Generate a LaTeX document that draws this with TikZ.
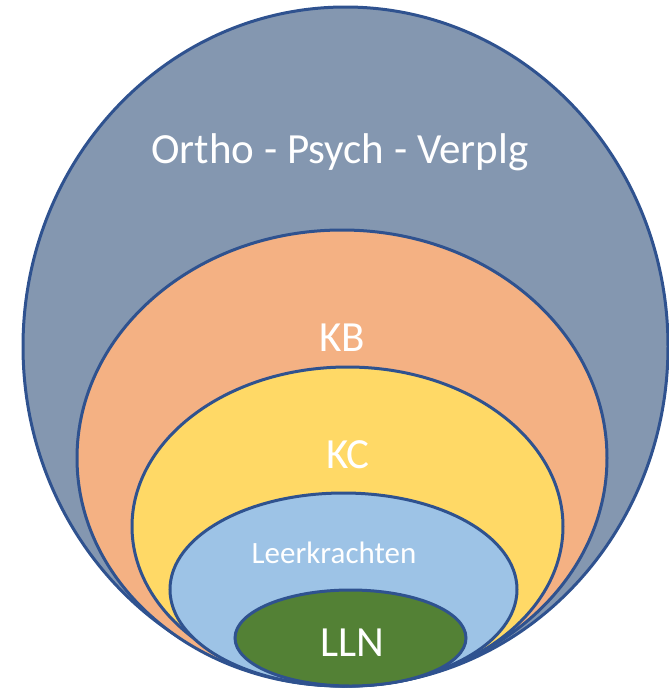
\documentclass[tikz,border=0pt]{standalone}
\usepackage{fontspec}
\setmainfont{Carlito}
\usetikzlibrary{shapes.geometric}
\definecolor{edgeblue}{HTML}{2F528F}
\definecolor{grayblue}{HTML}{8497B0}
\definecolor{kborange}{HTML}{F4B183}
\definecolor{kcyellow}{HTML}{FFD966}
\definecolor{lbblue}{HTML}{9DC3E6}
\definecolor{llngreen}{HTML}{538135}
\tikzset{
  ring/.style={ellipse, draw=edgeblue, line width=3pt, inner sep=0pt, outer sep=0pt},
  lbl/.style={text=white, inner sep=0pt, anchor=center},
}
\begin{document}
\begin{tikzpicture}[x=1pt,y=-1pt]
\useasboundingbox (0,0) rectangle (669,689);
\node[ring, fill=grayblue, minimum width=645pt, minimum height=679pt] (outer) at (345.5,346.5) {};
\node[ring, fill=kborange, minimum width=530pt, minimum height=456pt] (kb) at (342,458) {};
\node[ring, fill=kcyellow, minimum width=431pt, minimum height=319pt] (kc) at (347.5,526.5) {};
\node[ring, fill=lbblue, minimum width=347pt, minimum height=193pt] (lk) at (343.5,589.5) {};
\node[ring, fill=llngreen, minimum width=231pt, minimum height=96pt] (lln) at (350.5,638) {};
\node[lbl, font=\fontsize{43}{48}\selectfont] (touter) at (340,152) {Ortho - Psych - Verplg};
\node[lbl, font=\fontsize{43}{48}\selectfont] (tkb) at (342,338) {KB};
\node[lbl, font=\fontsize{43}{48}\selectfont] (tkc) at (348,455) {KC};
\node[lbl, font=\fontsize{31}{36}\selectfont] (tlk) at (334,553) {Leerkrachten};
\node[lbl, font=\fontsize{43}{48}\selectfont] (tlln) at (352,643) {LLN};
\end{tikzpicture}
\end{document}
